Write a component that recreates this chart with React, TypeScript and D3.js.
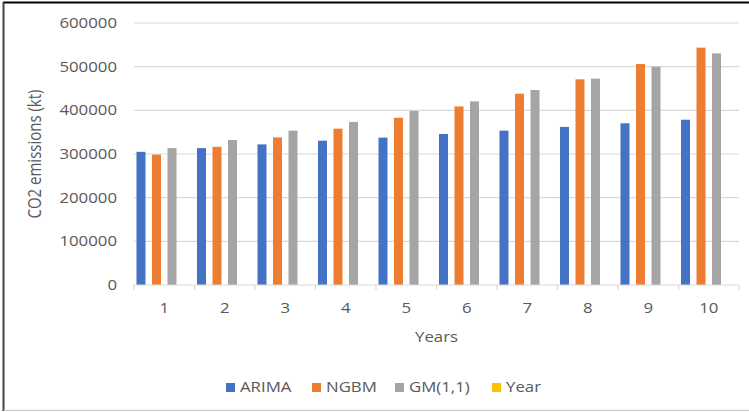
import React from "react";
import * as d3 from "d3";

// Forecast years (category axis)
const years = ["1", "2", "3", "4", "5", "6", "7", "8", "9", "10"];

// Forecast CO2 emissions (kt) by model
const arima = [305000, 313500, 322000, 330500, 337500, 345800, 353500, 362000, 370300, 378500];
const ngbm = [298500, 316500, 338000, 358000, 383000, 409000, 438000, 471000, 506000, 543500];
const gm11 = [313500, 332000, 353500, 373500, 398500, 420500, 446500, 472500, 500000, 530500];
const yearSeries = [1, 2, 3, 4, 5, 6, 7, 8, 9, 10];

const seriesNames = ["ARIMA", "NGBM", "GM(1,1)", "Year"];
const seriesValues = [arima, ngbm, gm11, yearSeries];
const seriesColors = ["#4472C4", "#ED7D31", "#A5A5A5", "#FFC000"];

const yTicks = [0, 100000, 200000, 300000, 400000, 500000, 600000];

const W = 749;
const H = 412;
const plot = { left: 134, right: 739, top: 23, bottom: 285 };
const FONT = "'Open Sans', 'Liberation Sans', sans-serif";
const TEXT = "#595959";
const SX = 1.2; // horizontal text stretch

export default function App() {
  const x = d3
    .scaleBand<string>()
    .domain(years)
    .range([plot.left, plot.right])
    .paddingInner(0)
    .paddingOuter(0);

  const xInner = d3
    .scaleBand<string>()
    .domain(seriesNames)
    .range([0, x.bandwidth()])
    .paddingInner(0.42)
    .paddingOuter(0.16);

  const y = d3.scaleLinear().domain([0, 600000]).range([plot.bottom, plot.top]);

  const legendX = [226, 312, 395, 492];

  return (
    <svg
      width={W}
      height={H}
      style={{ position: "absolute", left: 0, top: 0, background: "#fff" }}
      fontFamily={FONT}
    >
      {/* frame */}
      <line x1={3} x2={749} y1={2.5} y2={2.5} stroke="#000" strokeWidth={2} />
      <line x1={3.5} x2={3.5} y1={2} y2={411} stroke="#444" strokeWidth={2} />
      <line x1={4} x2={749} y1={410.5} y2={410.5} stroke="#d0d0d0" strokeWidth={1.5} />

      {/* gridlines */}
      {yTicks.slice(1).map((t) => (
        <line
          key={t}
          x1={plot.left}
          x2={plot.right}
          y1={y(t)}
          y2={y(t)}
          stroke="#d9d9d9"
          strokeWidth={1.2}
        />
      ))}

      {/* y tick labels */}
      {yTicks.map((t) => (
        <g key={t} transform={`translate(117,${y(t)}) scale(${SX},1)`}>
          <text textAnchor="end" dy="0.36em" fontSize={14} fill={TEXT}>
            {t}
          </text>
        </g>
      ))}

      {/* bars */}
      {seriesValues.map((vals, si) =>
        vals.map((v, i) => {
          const bx = (x(years[i]) as number) + (xInner(seriesNames[si]) as number);
          return (
            <rect
              key={`${si}-${i}`}
              x={bx}
              y={y(v)}
              width={xInner.bandwidth()}
              height={plot.bottom - y(v)}
              fill={seriesColors[si]}
            />
          );
        })
      )}

      {/* x axis */}
      <line
        x1={plot.left}
        x2={plot.right}
        y1={plot.bottom}
        y2={plot.bottom}
        stroke="#d9d9d9"
        strokeWidth={1.2}
      />
      {[...years.map((c) => x(c) as number), plot.right].map((tx, i) => (
        <line
          key={i}
          x1={tx}
          x2={tx}
          y1={plot.bottom}
          y2={plot.bottom + 5}
          stroke="#d9d9d9"
          strokeWidth={1.2}
        />
      ))}
      {years.map((c) => (
        <g key={c} transform={`translate(${(x(c) as number) + x.bandwidth() / 2},313) scale(${SX},1)`}>
          <text textAnchor="middle" fontSize={14} fill={TEXT}>
            {c}
          </text>
        </g>
      ))}

      {/* axis titles */}
      <g transform={`translate(${(plot.left + plot.right) / 2},342) scale(${SX},1)`}>
        <text textAnchor="middle" fontSize={14} fill={TEXT}>
          Years
        </text>
      </g>
      <g transform={`translate(41,${(plot.top + plot.bottom) / 2}) scale(${SX},1) rotate(-90)`}>
        <text textAnchor="middle" fontSize={15} fill={TEXT}>
          CO2 emissions (kt)
        </text>
      </g>

      {/* legend */}
      {seriesNames.map((name, i) => (
        <g key={name}>
          <rect x={legendX[i]} y={383} width={9} height={9} fill={seriesColors[i]} />
          <g transform={`translate(${legendX[i] + 14},392) scale(${SX},1)`}>
            <text fontSize={14} fill={TEXT}>
              {name}
            </text>
          </g>
        </g>
      ))}
    </svg>
  );
}
